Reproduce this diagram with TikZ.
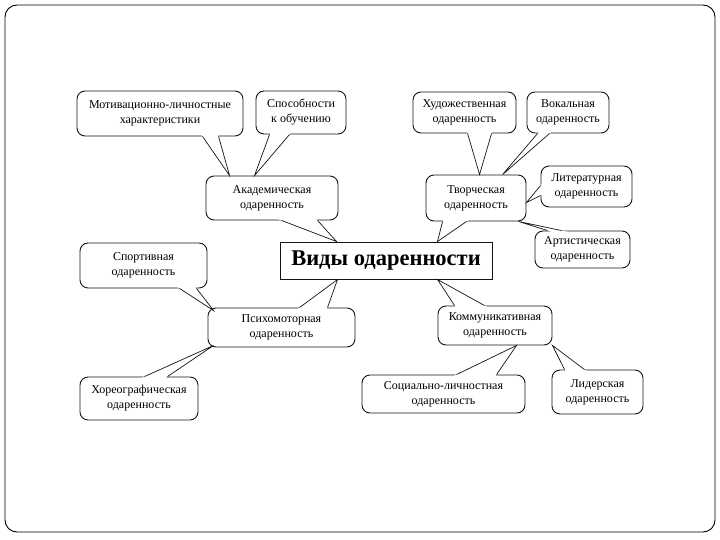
\documentclass[tikz,border=0pt]{standalone}
\usepackage{fontspec}
\setmainfont{Liberation Serif}
\usetikzlibrary{calc}
\definecolor{figline}{HTML}{141414}
\tikzset{
  slideframe/.style={draw=black, line width=0.9pt, rounded corners=12pt},
  callbox/.style={draw=figline, fill=white, line width=0.9pt, rounded corners=8pt,
    align=center, inner sep=2pt, font=\fontsize{12}{15}\selectfont},
  titlebox/.style={draw=figline, fill=white, line width=1pt, inner sep=0pt,
    font=\fontsize{22.5}{26}\selectfont\bfseries},
  ptrline/.style={draw=figline, line width=0.7pt, line join=miter}
}
% callout pointer: two base points on the box, tip on the target
\newcommand{\callptr}[3]{%
  \coordinate (ptra) at (#1);
  \coordinate (ptrb) at (#2);
  \coordinate (ptrt) at (#3);
  \fill[white] (ptrt) -- ($(ptrt)!1.15!(ptra)$) -- ($(ptrt)!1.15!(ptrb)$) -- cycle;
  \draw[ptrline] (ptra) -- (ptrt) -- (ptrb);
}

\begin{document}
\begin{tikzpicture}[x=1pt,y=-1pt]
  \useasboundingbox (0,0) rectangle (720,540);
  % slide frame
  \draw[slideframe] (5,5) rectangle (715,532);
  % centre box
  \node[titlebox,minimum width=212pt,minimum height=37pt] (vidy) at (386,260.5) {Виды одаренности};
  % callout boxes: name/centre x/centre y/width/height/text
  \foreach \nm/\cx/\cy/\w/\h/\txt in {
    motiv/160/113.5/166/45/{Мотивационно-личностные\\характеристики},
    sposob/301/112.5/90/43/{Способности\\к обучению},
    akad/272/198/132/44/{Академическая\\одаренность},
    hudozh/464.5/112.5/103/41/{Художественная\\одаренность},
    vokal/568/112.5/82/41/{Вокальная\\одаренность},
    tvorch/476/198/100/46/{Творческая\\одаренность},
    liter/586.5/186.5/91/41/{Литературная\\одаренность},
    artist/582.5/249.5/95/37/{Артистическая\\одаренность},
    sport/143.5/265.5/127/45/{Спортивная\\одаренность},
    psycho/281.5/327.5/147/39/{Психомоторная\\одаренность},
    horeo/139/398.5/118/43/{Хореографическая\\одаренность},
    kommun/495/325.5/114/39/{Коммуникативная\\одаренность},
    social/443.5/394/163/38/{Социально-личностная\\одаренность},
    lider/597.5/392/91/44/{Лидерская\\одаренность}} {
    \node[callbox,minimum width=\w pt,minimum height=\h pt] (\nm) at (\cx,\cy) {\txt};
  }
  % pointers, upper left group
  \callptr{$(motiv.south west)+(126,0)$}{$(motiv.south west)+(142,0)$}{$(akad.north west)+(24,0)$}
  \callptr{$(sposob.south west)+(14,0)$}{$(sposob.south west)+(34,0)$}{$(akad.north west)+(49,0)$}
  \callptr{$(akad.south west)+(76,0)$}{$(akad.south west)+(112,0)$}{$(vidy.north west)+(57,0)$}
  % upper right group
  \callptr{$(hudozh.south west)+(55,0)$}{$(hudozh.south west)+(79,0)$}{$(tvorch.north west)+(54,0)$}
  \callptr{$(vokal.south west)+(11,0)$}{$(vokal.south west)+(23,0)$}{$(tvorch.north west)+(77,0)$}
  \callptr{$(liter.north west)+(0,20)$}{$(liter.north west)+(0,30)$}{$(tvorch.north east)+(0,28)$}
  \callptr{$(artist.north west)+(13,0)$}{$(artist.north west)+(27,0)$}{$(tvorch.south east)+(-8,0)$}
  \callptr{$(tvorch.south west)+(17,0)$}{$(tvorch.south west)+(41,0)$}{$(vidy.north west)+(158,0)$}
  % lower left group
  \callptr{$(sport.south west)+(100,0)$}{$(sport.south west)+(117,0)$}{$(psycho.north west)+(6,3)$}
  \callptr{$(horeo.north west)+(65,0)$}{$(horeo.north west)+(88,0)$}{$(psycho.south west)+(6,-2)$}
  \callptr{$(psycho.north west)+(92,0)$}{$(psycho.north west)+(120,0)$}{$(vidy.south west)+(58,0)$}
  % lower right group
  \callptr{$(social.north west)+(95,0)$}{$(social.north west)+(135,0)$}{$(kommun.south west)+(79,0)$}
  \callptr{$(lider.north west)+(13,0)$}{$(lider.north west)+(33,0)$}{$(kommun.south east)$}
  \callptr{$(kommun.north west)+(17,0)$}{$(kommun.north west)+(47,0)$}{$(vidy.south west)+(158,0)$}
\end{tikzpicture}
\end{document}
